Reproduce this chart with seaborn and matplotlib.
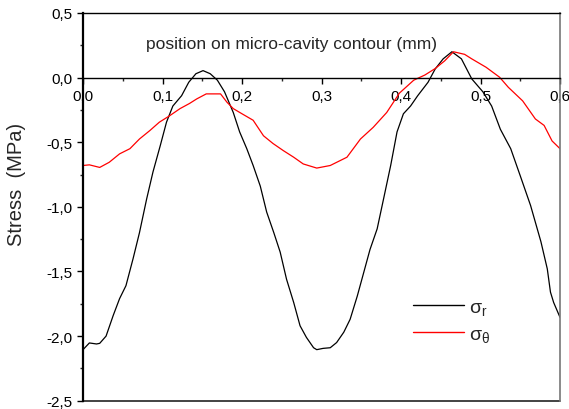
import numpy as np
import pandas as pd
import matplotlib
matplotlib.use("Agg")
import matplotlib.pyplot as plt
from matplotlib.ticker import MultipleLocator, FuncFormatter
import seaborn as sns

# Radial stress along the micro-cavity contour
pos_r = [0.000, 0.008, 0.017, 0.021, 0.029, 0.038, 0.046, 0.054, 0.063, 0.071,
         0.080, 0.088, 0.097, 0.105, 0.113, 0.124, 0.133, 0.142, 0.151, 0.160,
         0.169, 0.178, 0.189, 0.197, 0.206, 0.214, 0.223, 0.231, 0.240, 0.248,
         0.256, 0.265, 0.273, 0.281, 0.290, 0.294, 0.302, 0.311, 0.319, 0.328,
         0.336, 0.345, 0.353, 0.361, 0.370, 0.378, 0.387, 0.395, 0.403, 0.412,
         0.421, 0.434, 0.443, 0.453, 0.464, 0.476, 0.489, 0.503, 0.514, 0.525,
         0.538, 0.550, 0.563, 0.576, 0.584, 0.588, 0.592, 0.600]
sigma_r = [-2.105, -2.053, -2.061, -2.056, -2.00, -1.84, -1.71, -1.61, -1.40, -1.20,
           -0.94, -0.73, -0.53, -0.345, -0.22, -0.14, -0.036, 0.03, 0.054, 0.03,
           -0.02, -0.11, -0.27, -0.42, -0.55, -0.68, -0.84, -1.04, -1.20, -1.35,
           -1.56, -1.74, -1.92, -2.01, -2.09, -2.105, -2.095, -2.09, -2.05, -1.97,
           -1.87, -1.69, -1.51, -1.33, -1.17, -0.94, -0.68, -0.42, -0.28, -0.22,
           -0.14, -0.036, 0.067, 0.145, 0.20, 0.145, -0.01, -0.11, -0.22, -0.40,
           -0.55, -0.76, -0.99, -1.27, -1.48, -1.66, -1.74, -1.855]

# Hoop stress along the micro-cavity contour
pos_t = [0.000, 0.008, 0.021, 0.033, 0.046, 0.059, 0.071, 0.084, 0.096, 0.109,
         0.122, 0.134, 0.143, 0.155, 0.173, 0.181, 0.189, 0.200, 0.214, 0.227,
         0.239, 0.252, 0.265, 0.277, 0.294, 0.311, 0.332, 0.349, 0.365, 0.382,
         0.398, 0.416, 0.430, 0.443, 0.455, 0.466, 0.480, 0.489, 0.507, 0.524,
         0.535, 0.553, 0.569, 0.580, 0.590, 0.600]
sigma_t = [-0.68, -0.675, -0.695, -0.655, -0.59, -0.55, -0.475, -0.41, -0.345, -0.295,
           -0.24, -0.20, -0.165, -0.126, -0.126, -0.19, -0.24, -0.28, -0.33, -0.45,
           -0.51, -0.565, -0.616, -0.668, -0.70, -0.68, -0.616, -0.475, -0.385, -0.27,
           -0.12, -0.02, 0.02, 0.07, 0.13, 0.20, 0.18, 0.145, 0.08, 0.003,
           -0.075, -0.18, -0.32, -0.37, -0.49, -0.55]

labels = [r"$\sigma_r$", r"$\sigma_\theta$"]
colors = ["black", "red"]

df = pd.concat([
    pd.DataFrame({"pos": pos_r, "stress": sigma_r, "comp": labels[0]}),
    pd.DataFrame({"pos": pos_t, "stress": sigma_t, "comp": labels[1]}),
], ignore_index=True)

sns.set_theme(style="ticks")
plt.rcParams["font.family"] = ["Liberation Sans", "DejaVu Sans"]
plt.rcParams["mathtext.fontset"] = "custom"
plt.rcParams["mathtext.rm"] = "Liberation Sans"
plt.rcParams["mathtext.it"] = "Liberation Sans"

fig = plt.figure(figsize=(5.69, 4.10), dpi=100)
ax = fig.add_axes([0.1459, 0.0202, 0.8383, 0.9457])

sns.lineplot(data=df, x="pos", y="stress", hue="comp", palette=colors,
             hue_order=labels, sort=False, estimator=None, linewidth=0.9, ax=ax)

ax.set_xlim(0, 0.6)
ax.set_ylim(-2.5, 0.5)

comma = FuncFormatter(lambda v, p: f"{v:.1f}".replace(".", ","))
ax.xaxis.set_major_locator(MultipleLocator(0.1))
ax.xaxis.set_minor_locator(MultipleLocator(0.05))
ax.yaxis.set_major_locator(MultipleLocator(0.5))
ax.yaxis.set_minor_locator(MultipleLocator(0.25))
ax.xaxis.set_major_formatter(comma)
ax.yaxis.set_major_formatter(comma)

# x axis runs along the zero-stress line
ax.spines["bottom"].set_position(("data", 0))
ax.spines["bottom"].set_linewidth(1.0)
ax.spines["left"].set_linewidth(1.6)
ax.spines["top"].set_linewidth(1.0)
ax.spines["right"].set_color("#777777")
ax.spines["right"].set_linewidth(1.2)
for s in ax.spines.values():
    if s is not ax.spines["right"]:
        s.set_color("black")

# frame line along the bottom edge
ax.plot([0, 1], [0, 0], transform=ax.transAxes, color="#222222", lw=1.2, clip_on=False)

ax.tick_params(axis="both", which="major", direction="out", length=4.5, width=1.0,
               labelsize=11, colors="black", pad=3)
ax.tick_params(axis="both", which="minor", direction="out", length=2.5, width=1.0)
ax.tick_params(axis="x", which="major", pad=4)

ax.set_xlabel("")
ax.text(0.4375, 0.92, "position on micro-cavity contour (mm)", transform=ax.transAxes,
        ha="center", va="center", fontsize=12.5)
ax.set_ylabel("Stress  (MPa)", fontsize=14.5)
ax.yaxis.set_label_coords(-0.12, 0.5615)

leg = ax.legend(loc="upper left", bbox_to_anchor=(0.655, 0.31), frameon=False,
                fontsize=14, handlelength=2.6, handletextpad=0.3, labelspacing=0.45,
                title=None)
for line in leg.get_lines():
    line.set_linewidth(1.0)

fig.savefig("out.png", dpi=100)
